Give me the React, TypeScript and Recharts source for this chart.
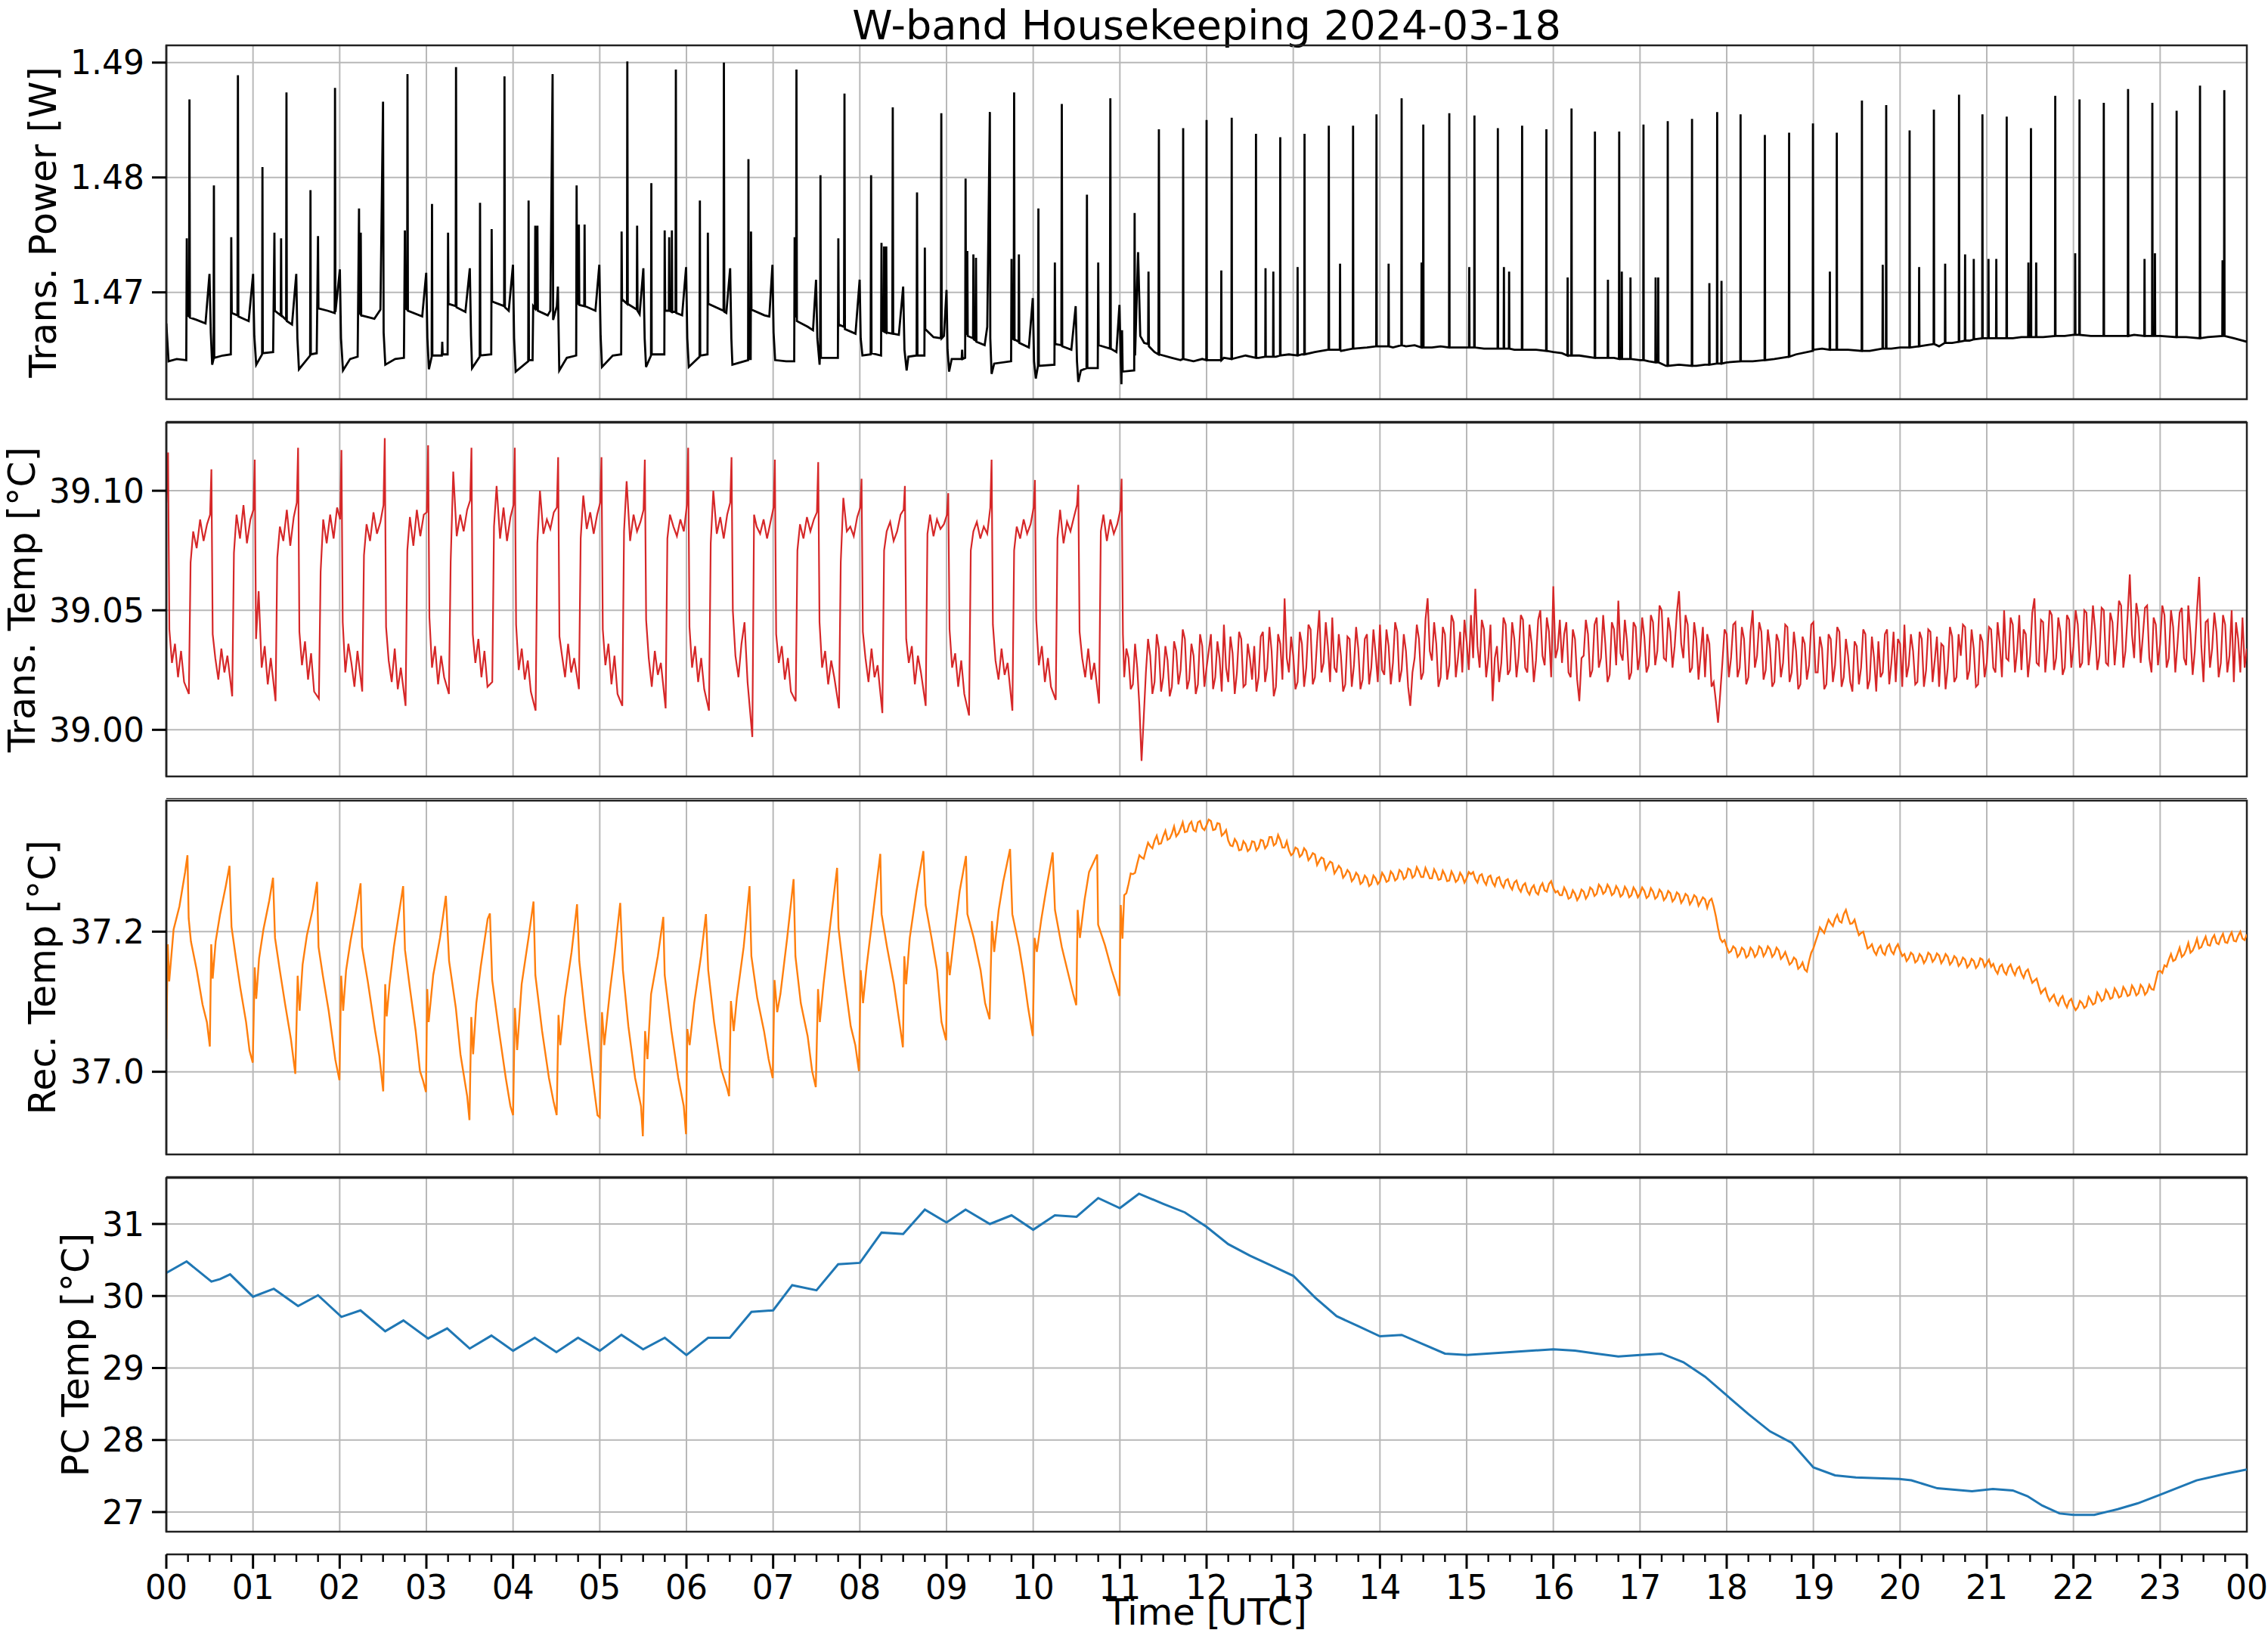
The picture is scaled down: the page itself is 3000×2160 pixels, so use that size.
// W-band housekeeping, four stacked panels sharing a 24 h time axis.
import React from 'react'
import { LineChart, Line, XAxis, YAxis, CartesianGrid, ReferenceArea } from 'recharts'

const FONT = '"DejaVu Sans", sans-serif'

const HOURS = [0, 1, 2, 3, 4, 5, 6, 7, 8, 9, 10, 11, 12, 13, 14, 15, 16, 17, 18, 19, 20, 21, 22, 23, 24]
const HOUR_LABELS = ['00', '01', '02', '03', '04', '05', '06', '07', '08', '09', '10', '11', '12',
  '13', '14', '15', '16', '17', '18', '19', '20', '21', '22', '23', '00']
const QUARTER_TICKS = HOURS.slice(0, -1).flatMap((h) => [h, h + 0.25, h + 0.5, h + 0.75]).concat(24)

// ---- Trans. Power [W]: shape of the trace (hour, W) ----
const powerTrace: [number, number][] = [
  [0, 1.4673], [0.026, 1.464], [0.12, 1.4642], [0.23, 1.4641],
  [0.236, 1.4747], [0.24, 1.468], [0.262, 1.4679], [0.267, 1.4868], [0.272, 1.4678], [0.35, 1.4676], [0.452, 1.4673], [0.498, 1.4716], [0.513, 1.4665], [0.529, 1.4637],
  [0.545, 1.4642], [0.549, 1.4793], [0.553, 1.4643], [0.65, 1.4645], [0.744, 1.4646],
  [0.749, 1.4748], [0.755, 1.4682], [0.821, 1.468], [0.826, 1.4889], [0.831, 1.4679], [0.95, 1.4675], [1.001, 1.4716], [1.015, 1.4662], [1.037, 1.4637],
  [1.105, 1.4646], [1.109, 1.4809], [1.113, 1.4647], [1.232, 1.4648],
  [1.247, 1.4752], [1.252, 1.4684], [1.32, 1.468], [1.324, 1.4747], [1.328, 1.468], [1.382, 1.4676], [1.386, 1.4874], [1.39, 1.4675], [1.45, 1.4672], [1.499, 1.4716], [1.512, 1.466], [1.53, 1.4633],
  [1.659, 1.4645], [1.663, 1.4789], [1.667, 1.4646], [1.735, 1.4647],
  [1.75, 1.4749], [1.755, 1.4686], [1.86, 1.4684], [1.942, 1.4682], [1.946, 1.4878], [1.951, 1.4683], [2.002, 1.472], [2.015, 1.466], [2.038, 1.4632],
  [2.12, 1.4642], [2.207, 1.4644],
  [2.223, 1.4773], [2.228, 1.4682], [2.239, 1.4681], [2.243, 1.4752], [2.248, 1.468], [2.4, 1.4677], [2.47, 1.4685], [2.5, 1.4866], [2.507, 1.4665], [2.526, 1.4637],
  [2.64, 1.4642], [2.741, 1.4643],
  [2.752, 1.4754], [2.757, 1.4686], [2.778, 1.4685], [2.782, 1.489], [2.787, 1.4684], [2.952, 1.4679], [2.998, 1.4717], [3.012, 1.466], [3.029, 1.4633],
  [3.061, 1.4644], [3.065, 1.4777], [3.069, 1.4645], [3.178, 1.4645], [3.183, 1.4657], [3.188, 1.4646], [3.245, 1.4646],
  [3.25, 1.4752], [3.255, 1.469], [3.338, 1.4688], [3.342, 1.4896], [3.347, 1.4687], [3.45, 1.4683], [3.501, 1.4721], [3.515, 1.4662], [3.527, 1.4634],
  [3.615, 1.4644], [3.619, 1.4778], [3.623, 1.4645], [3.748, 1.4646],
  [3.753, 1.4755], [3.758, 1.4692], [3.897, 1.4688], [3.901, 1.4888], [3.906, 1.4687], [3.95, 1.4684], [3.999, 1.4724], [4.012, 1.466], [4.03, 1.4631],
  [4.175, 1.464], [4.179, 1.478], [4.183, 1.4641], [4.225, 1.4641],
  [4.232, 1.4688], [4.252, 1.4686], [4.256, 1.4758], [4.26, 1.4686], [4.277, 1.4685], [4.281, 1.4758], [4.286, 1.4684], [4.4, 1.468], [4.43, 1.4684], [4.456, 1.489], [4.462, 1.4676], [4.505, 1.4688], [4.517, 1.4705], [4.533, 1.4632],
  [4.62, 1.4643], [4.728, 1.4645],
  [4.733, 1.4793], [4.738, 1.469], [4.755, 1.469], [4.759, 1.4759], [4.764, 1.4689], [4.821, 1.4688], [4.825, 1.4759], [4.83, 1.4688], [4.95, 1.4684], [4.995, 1.4724], [5.01, 1.4662], [5.026, 1.4635],
  [5.15, 1.4645], [5.247, 1.4646],
  [5.252, 1.4753], [5.257, 1.4694], [5.314, 1.469], [5.318, 1.4901], [5.323, 1.469], [5.427, 1.4685], [5.431, 1.4758], [5.436, 1.4684], [5.46, 1.4681], [5.503, 1.4721], [5.518, 1.466], [5.534, 1.4635],
  [5.591, 1.4645], [5.595, 1.4795], [5.599, 1.4646], [5.745, 1.4646],
  [5.749, 1.4754], [5.755, 1.4684], [5.797, 1.4684], [5.801, 1.4748], [5.806, 1.4684], [5.828, 1.4683], [5.832, 1.4754], [5.837, 1.4683], [5.874, 1.4683], [5.878, 1.4894], [5.883, 1.4682], [5.95, 1.468], [5.996, 1.4722], [6.01, 1.466], [6.027, 1.4635],
  [6.151, 1.4644], [6.155, 1.478], [6.159, 1.4645], [6.243, 1.4646],
  [6.247, 1.4752], [6.252, 1.469], [6.428, 1.4684], [6.432, 1.49], [6.437, 1.4683], [6.46, 1.4682], [6.504, 1.4721], [6.518, 1.466], [6.53, 1.4637],
  [6.711, 1.4641], [6.715, 1.4816], [6.719, 1.4642], [6.741, 1.4642],
  [6.745, 1.4753], [6.75, 1.4685], [6.9, 1.468], [6.956, 1.4679], [6.992, 1.4724], [7.005, 1.4665], [7.023, 1.4641],
  [7.15, 1.464], [7.243, 1.464],
  [7.248, 1.4748], [7.252, 1.468], [7.265, 1.4679], [7.269, 1.4894], [7.274, 1.4675], [7.4, 1.467], [7.46, 1.4667], [7.495, 1.4711], [7.51, 1.466], [7.536, 1.4637],
  [7.542, 1.465], [7.546, 1.4802], [7.551, 1.4643], [7.747, 1.4643],
  [7.752, 1.4747], [7.757, 1.4672], [7.818, 1.467], [7.823, 1.4873], [7.828, 1.4668], [7.95, 1.4664], [7.998, 1.4711], [8.01, 1.466], [8.03, 1.4645],
  [8.125, 1.4646], [8.13, 1.4802], [8.135, 1.4647], [8.245, 1.4645],
  [8.25, 1.4743], [8.255, 1.4667], [8.276, 1.4666], [8.28, 1.474], [8.285, 1.4666], [8.301, 1.4665], [8.305, 1.474], [8.31, 1.4665], [8.375, 1.4664], [8.38, 1.4861], [8.385, 1.4664], [8.45, 1.4663], [8.5, 1.4705], [8.515, 1.465], [8.54, 1.4632],
  [8.56, 1.4644], [8.655, 1.4645], [8.66, 1.4787], [8.665, 1.4645], [8.745, 1.4645],
  [8.75, 1.4739], [8.755, 1.4668], [8.85, 1.4661], [8.935, 1.466], [8.94, 1.4856], [8.945, 1.466], [8.97, 1.4662], [9.0, 1.4702], [9.012, 1.465], [9.03, 1.4631],
  [9.06, 1.4642], [9.175, 1.4642], [9.18, 1.465], [9.185, 1.4642], [9.215, 1.4643],
  [9.22, 1.4799], [9.225, 1.4665], [9.236, 1.4664], [9.24, 1.4736], [9.245, 1.4662], [9.306, 1.466], [9.31, 1.4733], [9.315, 1.4659], [9.336, 1.4658], [9.34, 1.473], [9.345, 1.4657], [9.44, 1.4654], [9.47, 1.467], [9.5, 1.4857], [9.505, 1.466], [9.52, 1.4629],
  [9.55, 1.4638], [9.745, 1.464],
  [9.75, 1.4729], [9.755, 1.466], [9.775, 1.4659], [9.78, 1.4874], [9.785, 1.4659], [9.831, 1.4657], [9.835, 1.4733], [9.84, 1.4656], [9.95, 1.4652], [9.995, 1.4695], [10.01, 1.464], [10.03, 1.4625],
  [10.055, 1.4636], [10.06, 1.4773], [10.065, 1.4636], [10.245, 1.4637],
  [10.25, 1.4726], [10.255, 1.4655], [10.325, 1.4654], [10.33, 1.4864], [10.335, 1.4653], [10.44, 1.465], [10.49, 1.4688], [10.505, 1.464], [10.52, 1.4622],
  [10.55, 1.4632], [10.615, 1.4634], [10.62, 1.4785], [10.625, 1.4634], [10.745, 1.4634],
  [10.75, 1.4726], [10.755, 1.4654], [10.885, 1.4651], [10.89, 1.4869], [10.895, 1.4651], [10.96, 1.4648], [10.995, 1.4689], [11.01, 1.464], [11.018, 1.462], [11.025, 1.4667], [11.032, 1.4631],
  [11.165, 1.4632], [11.17, 1.4769], [11.175, 1.4645], [11.21, 1.4735], [11.235, 1.4662], [11.28, 1.4656], [11.326, 1.4655], [11.33, 1.4718], [11.335, 1.4653], [11.4, 1.4648], [11.445, 1.4646], [11.45, 1.4842], [11.455, 1.4646],
  [11.6, 1.4643], [11.7, 1.4641], [11.85, 1.464], [11.95, 1.4642], [12.1, 1.4641], [12.2, 1.4643], [12.45, 1.4645], [12.6, 1.4643], [12.8, 1.4644], [12.95, 1.4646],
  [13.1, 1.4646], [13.25, 1.4648], [13.4, 1.465], [13.55, 1.4649], [13.7, 1.4651], [13.85, 1.4652], [14.0, 1.4653], [14.15, 1.4652], [14.3, 1.4653], [14.4, 1.4654],
  [14.6, 1.4652], [14.7, 1.4653], [14.9, 1.4652], [15.0, 1.4652], [15.2, 1.4651], [15.4, 1.4651], [15.55, 1.465], [15.8, 1.465], [16.0, 1.4648], [16.1, 1.4647],
  [16.3, 1.4645], [16.5, 1.4643], [16.7, 1.4643], [17.0, 1.4641], [17.1, 1.464], [17.3, 1.4636], [17.45, 1.4637], [17.65, 1.4636], [17.75, 1.4637], [18.0, 1.4639],
  [18.3, 1.464], [18.55, 1.4642], [18.8, 1.4646], [19.0, 1.465], [19.1, 1.4651], [19.4, 1.465], [19.65, 1.4649], [19.9, 1.4651], [20.0, 1.4652], [20.3, 1.4654],
  [20.45, 1.4653], [20.6, 1.4656], [20.8, 1.4658], [21.0, 1.466], [21.3, 1.466], [21.4, 1.4661], [21.65, 1.4661], [21.9, 1.4662], [22.0, 1.4663], [22.2, 1.4662],
  [22.5, 1.4662], [22.7, 1.4663], [23.0, 1.4662], [23.3, 1.4661], [23.55, 1.4661], [23.85, 1.466], [24.0, 1.4657],
]

// ---- Trans. Power spikes after 11.5 h: [hour, base W, peak W] ----
const powerSpikes: [number, number, number][] = [
  [11.73, 1.4642, 1.4843], [12.0, 1.4641, 1.485], [12.17, 1.4641, 1.4719], [12.29, 1.4642, 1.4852], [12.57, 1.4643, 1.4838],
  [12.68, 1.4644, 1.4721], [12.77, 1.4644, 1.4718], [12.85, 1.4645, 1.4835], [13.05, 1.4645, 1.4722], [13.13, 1.4646, 1.4838],
  [13.41, 1.465, 1.4845], [13.54, 1.465, 1.4725], [13.69, 1.4651, 1.4845], [13.96, 1.4653, 1.4855], [14.1, 1.4653, 1.4725],
  [14.25, 1.4654, 1.4869], [14.48, 1.4652, 1.4726], [14.5, 1.4652, 1.4846], [14.8, 1.4652, 1.4856], [15.03, 1.4652, 1.4722],
  [15.09, 1.4652, 1.4854], [15.36, 1.4651, 1.4843], [15.43, 1.4651, 1.4722], [15.49, 1.4651, 1.4718], [15.64, 1.465, 1.4845],
  [15.92, 1.4649, 1.4842], [16.165, 1.4645, 1.4713], [16.21, 1.4645, 1.486], [16.48, 1.4643, 1.484], [16.63, 1.4643, 1.4711],
  [16.76, 1.4642, 1.484], [16.79, 1.4642, 1.4718], [16.89, 1.4642, 1.4713], [17.04, 1.4641, 1.4846], [17.18, 1.4639, 1.4713],
  [17.21, 1.4639, 1.4713], [17.32, 1.4636, 1.4849], [17.6, 1.4636, 1.4851], [17.8, 1.4637, 1.4708], [17.89, 1.4638, 1.4857],
  [17.94, 1.4638, 1.471], [18.16, 1.464, 1.4855], [18.44, 1.4641, 1.4837], [18.72, 1.4644, 1.4839], [18.995, 1.4649, 1.4847],
  [19.19, 1.465, 1.4718], [19.27, 1.465, 1.4839], [19.56, 1.4649, 1.4867], [19.8, 1.4651, 1.4724], [19.84, 1.4651, 1.4863],
  [20.11, 1.4652, 1.4841], [20.22, 1.4653, 1.4722], [20.39, 1.4655, 1.4859], [20.52, 1.4656, 1.4725], [20.68, 1.4657, 1.4872],
  [20.75, 1.4658, 1.4733], [20.85, 1.4659, 1.4729], [20.95, 1.466, 1.4855], [21.02, 1.466, 1.4729], [21.11, 1.466, 1.4729],
  [21.23, 1.466, 1.4853], [21.48, 1.4661, 1.4726], [21.51, 1.4661, 1.4843], [21.57, 1.4661, 1.4726], [21.79, 1.4662, 1.4871],
  [22.02, 1.4663, 1.4734], [22.07, 1.4663, 1.4868], [22.35, 1.4662, 1.4865], [22.63, 1.4662, 1.4877], [22.82, 1.4662, 1.4729],
  [22.91, 1.4662, 1.4865], [22.94, 1.4662, 1.4734], [23.19, 1.4661, 1.4858], [23.46, 1.466, 1.488], [23.72, 1.4662, 1.4728],
  [23.74, 1.4662, 1.4876],
]

// ---- Trans. Temp [°C] 0–11 h: one row per half hour, sampled at the phases below ----
const transTempPhase = [0.02, 0.035, 0.065, 0.1, 0.135, 0.17, 0.205, 0.26, 0.28, 0.31, 0.35, 0.39, 0.43, 0.47, 0.505]
const transTempCycles: number[][] = [
  [39.116, 39.042, 39.028, 39.036, 39.022, 39.033, 39.02, 39.015, 39.07, 39.083, 39.076, 39.088, 39.079, 39.086, 39.09],
  [39.109, 39.04, 39.03, 39.021, 39.034, 39.024, 39.031, 39.014, 39.074, 39.09, 39.08, 39.094, 39.078, 39.088, 39.092],
  [39.113, 39.038, 39.058, 39.026, 39.035, 39.019, 39.03, 39.012, 39.072, 39.085, 39.079, 39.092, 39.077, 39.089, 39.095],
  [39.118, 39.041, 39.027, 39.037, 39.021, 39.032, 39.016, 39.013, 39.066, 39.088, 39.078, 39.09, 39.08, 39.093, 39.088],
  [39.117, 39.045, 39.024, 39.036, 39.028, 39.018, 39.033, 39.016, 39.073, 39.086, 39.079, 39.091, 39.082, 39.087, 39.094],
  [39.122, 39.043, 39.029, 39.02, 39.034, 39.017, 39.026, 39.01, 39.075, 39.089, 39.077, 39.092, 39.081, 39.09, 39.091],
  [39.119, 39.047, 39.026, 39.035, 39.019, 39.031, 39.022, 39.015, 39.07, 39.108, 39.081, 39.09, 39.083, 39.092, 39.096],
  [39.118, 39.04, 39.028, 39.038, 39.022, 39.033, 39.018, 39.02, 39.085, 39.102, 39.08, 39.093, 39.079, 39.089, 39.094],
  [39.118, 39.044, 39.025, 39.034, 39.021, 39.029, 39.016, 39.008, 39.078, 39.1, 39.082, 39.088, 39.084, 39.091, 39.093],
  [39.114, 39.039, 39.031, 39.022, 39.036, 39.024, 39.03, 39.017, 39.08, 39.098, 39.084, 39.091, 39.082, 39.09, 39.095],
  [39.114, 39.042, 39.027, 39.036, 39.019, 39.031, 39.015, 39.01, 39.083, 39.104, 39.079, 39.09, 39.083, 39.087, 39.092],
  [39.113, 39.046, 39.03, 39.018, 39.033, 39.023, 39.028, 39.009, 39.08, 39.09, 39.085, 39.081, 39.088, 39.083, 39.094],
  [39.118, 39.043, 39.026, 39.035, 39.02, 39.03, 39.017, 39.008, 39.078, 39.1, 39.082, 39.089, 39.08, 39.09, 39.095],
  [39.114, 39.05, 39.031, 39.022, 39.036, 39.045, 39.02, 38.997, 39.09, 39.085, 39.082, 39.088, 39.08, 39.087, 39.093],
  [39.113, 39.04, 39.028, 39.035, 39.021, 39.03, 39.016, 39.012, 39.075, 39.086, 39.08, 39.089, 39.083, 39.088, 39.091],
  [39.112, 39.045, 39.026, 39.033, 39.019, 39.029, 39.022, 39.009, 39.07, 39.097, 39.083, 39.085, 39.081, 39.089, 39.093],
  [39.105, 39.041, 39.03, 39.02, 39.034, 39.022, 39.027, 39.007, 39.075, 39.083, 39.087, 39.079, 39.083, 39.09, 39.092],
  [39.102, 39.038, 39.028, 39.035, 39.019, 39.031, 39.024, 39.01, 39.082, 39.09, 39.081, 39.088, 39.084, 39.086, 39.09],
  [39.099, 39.042, 39.026, 39.032, 39.018, 39.029, 39.015, 39.006, 39.075, 39.083, 39.087, 39.08, 39.085, 39.082, 39.093],
  [39.113, 39.044, 39.029, 39.021, 39.034, 39.023, 39.028, 39.008, 39.075, 39.085, 39.08, 39.088, 39.082, 39.086, 39.093],
  [39.1045, 39.046, 39.027, 39.035, 39.02, 39.03, 39.018, 39.0125, 39.08, 39.092, 39.078, 39.087, 39.083, 39.089, 39.094],
  [39.1025, 39.041, 39.03, 39.022, 39.034, 39.021, 39.028, 39.011, 39.083, 39.09, 39.079, 39.088, 39.082, 39.086, 39.092],
]
const transTempEdges: [number, number][] = [[0, 39.095], [11.02, 39.105], [11.035, 39.04]]

// ---- Trans. Temp [°C] 11.05–24 h, every 3 min ----
const transTempLate = [
  39.022, 39.03, 39.019, 39.026, 38.987, 39.024, 39.031, 39.02, 39.034, 39.022, 39.029, 39.018, 39.033, 39.025, 39.038, 39.021, 39.031, 39.019, 39.035, 39.026,
  39.04, 39.022, 39.03, 39.044, 39.02, 39.032, 39.024, 39.038, 39.019, 39.03, 39.035, 39.022, 39.041, 39.026, 39.033, 39.018, 39.036, 39.055, 39.024, 39.031,
  39.02, 39.036, 39.026, 39.042, 39.022, 39.05, 39.028, 39.035, 39.047, 39.024, 39.031, 39.019, 39.038, 39.027, 39.034, 39.021, 39.04, 39.026, 39.032, 39.044,
  39.023, 39.035, 39.028, 39.041, 39.025, 39.033, 39.01, 39.03, 39.038, 39.024, 39.055, 39.029, 39.036, 39.022, 39.04, 39.027, 39.045, 39.03, 39.024, 39.037,
  39.048, 39.059, 39.026, 39.042, 39.03, 39.012, 39.035, 39.028, 39.044, 39.025, 39.038, 39.031, 39.046, 39.024, 39.036, 39.029, 39.05, 39.027, 39.041, 39.06,
  39.034, 39.028, 39.045, 39.022, 39.038, 39.012, 39.031, 39.04, 39.025, 39.047, 39.03, 39.036, 39.023, 39.042, 39.054, 39.029, 39.037, 39.024, 39.043, 39.031,
  39.039, 39.027, 39.045, 39.033, 39.05, 39.029, 39.041, 39.035, 39.058, 39.03, 39.044, 39.026, 39.038, 39.032, 39.022, 39.036, 39.02, 39.003, 39.028, 39.04,
  39.03, 39.045, 39.026, 39.038, 39.022, 39.05, 39.031, 39.041, 39.025, 39.034, 39.02, 39.037, 39.028, 39.043, 39.024, 39.033, 39.019, 39.036, 39.027, 39.045,
  39.024, 39.034, 39.019, 39.038, 39.027, 39.041, 39.022, 39.031, 39.016, 39.035, 39.026, 39.04, 39.021, 39.03, 39.037, 39.024, 39.042, 39.028, 39.02, 39.036,
  39.044, 39.027, 39.033, 39.02, 39.038, 39.025, 39.041, 39.029, 39.018, 39.035, 39.026, 39.039, 39.022, 39.031, 39.043, 39.025, 39.034, 39.019, 39.037, 39.028,
  39.042, 39.024, 39.036, 39.05, 39.029, 39.044, 39.033, 39.025, 39.04, 39.031, 39.055, 39.027, 39.045, 39.034, 39.048, 39.03, 39.041, 39.026, 39.046, 39.035,
  39.044, 39.028, 39.049, 39.036, 39.042, 39.031, 39.05, 39.027, 39.045, 39.038, 39.052, 39.033, 39.065, 39.03, 39.047, 39.039, 39.052, 39.024, 39.044, 39.036,
  39.048, 39.03, 39.043, 39.036, 39.051, 39.027, 39.04, 39.033, 39.064, 39.02, 39.046, 39.034, 39.041, 39.028, 39.044, 39.031, 39.02, 39.038, 39.047, 39.034,
]
// the samples half-way between those above (11.075–23.975 h)
const transTempLateMid = [
  39.034, 39.017, 39.036, 39.01, 39.005, 39.038, 39.015, 39.04, 39.016, 39.035, 39.014, 39.037, 39.019, 39.042, 39.017, 39.036, 39.015, 39.04, 39.018, 39.033,
  39.017, 39.037, 39.016, 39.026, 39.039, 39.015, 39.041, 39.018, 39.036, 39.021, 39.016, 39.039, 39.02, 39.043, 39.014, 39.04, 39.021, 39.03, 39.039, 39.017,
  39.041, 39.018, 39.044, 39.019, 39.037, 39.024, 39.045, 39.02, 39.026, 39.04, 39.016, 39.039, 39.018, 39.043, 39.017, 39.038, 39.019, 39.042, 39.02, 39.025,
  39.042, 39.019, 39.045, 39.02, 39.04, 39.018, 39.024, 39.044, 39.021, 39.046, 39.033, 39.045, 39.018, 39.043, 39.021, 39.048, 39.022, 39.041, 39.046, 39.025,
  39.03, 39.035, 39.046, 39.022, 39.044, 39.03, 39.02, 39.047, 39.023, 39.045, 39.022, 39.048, 39.026, 39.044, 39.02, 39.046, 39.031, 39.047, 39.022, 39.03,
  39.046, 39.04, 39.024, 39.042, 39.021, 39.03, 39.046, 39.022, 39.044, 39.026, 39.048, 39.02, 39.045, 39.027, 39.032, 39.046, 39.021, 39.045, 39.025, 39.047,
  39.024, 39.048, 39.027, 39.052, 39.03, 39.047, 39.026, 39.049, 39.036, 39.048, 39.024, 39.045, 39.021, 39.043, 39.04, 39.018, 39.012, 39.015, 39.042, 39.022,
  39.044, 39.022, 39.043, 39.019, 39.041, 39.026, 39.045, 39.021, 39.042, 39.018, 39.04, 39.022, 39.044, 39.02, 39.041, 39.017, 39.039, 39.021, 39.044, 39.024,
  39.039, 39.017, 39.04, 39.02, 39.043, 39.018, 39.038, 39.02, 39.037, 39.019, 39.042, 39.017, 39.039, 39.016, 39.022, 39.04, 39.019, 39.041, 39.038, 39.018,
  39.022, 39.04, 39.019, 39.041, 39.018, 39.042, 39.02, 39.039, 39.036, 39.017, 39.043, 39.02, 39.04, 39.044, 39.021, 39.042, 39.018, 39.04, 39.022, 39.043,
  39.026, 39.045, 39.022, 39.03, 39.047, 39.024, 39.048, 39.042, 39.022, 39.049, 39.028, 39.046, 39.024, 39.05, 39.025, 39.047, 39.023, 39.048, 39.026, 39.05,
  39.026, 39.05, 39.027, 39.052, 39.025, 39.051, 39.028, 39.049, 39.027, 39.054, 39.026, 39.048, 39.04, 39.053, 39.028, 39.051, 39.03, 39.047, 39.027, 39.052,
  39.026, 39.05, 39.024, 39.049, 39.03, 39.052, 39.023, 39.05, 39.035, 39.045, 39.026, 39.049, 39.022, 39.048, 39.024, 39.05, 39.045, 39.024, 39.026,
]

// ---- Rec. Temp [°C] 0–11.03 h sawtooth (hour, °C) ----
const recTempEarly: [number, number][] = [
  [0, 37.046], [0.017, 37.182], [0.033, 37.129], [0.084, 37.203], [0.151, 37.236], [0.217, 37.285], [0.244, 37.309],
  [0.258, 37.219], [0.284, 37.186], [0.351, 37.145], [0.418, 37.096], [0.468, 37.071], [0.502, 37.036],
  [0.518, 37.182], [0.535, 37.133], [0.569, 37.186], [0.619, 37.224], [0.686, 37.265], [0.729, 37.294],
  [0.752, 37.207], [0.803, 37.162], [0.853, 37.12], [0.92, 37.071], [0.96, 37.03], [0.997, 37.013],
  [1.02, 37.149], [1.037, 37.104], [1.07, 37.162], [1.12, 37.203], [1.187, 37.244], [1.231, 37.277],
  [1.254, 37.191], [1.304, 37.149], [1.371, 37.096], [1.438, 37.046], [1.488, 36.997],
  [1.515, 37.137], [1.538, 37.087], [1.572, 37.153], [1.622, 37.195], [1.689, 37.232], [1.739, 37.271],
  [1.756, 37.178], [1.806, 37.137], [1.873, 37.087], [1.95, 37.017], [1.997, 36.988],
  [2.017, 37.137], [2.04, 37.087], [2.074, 37.145], [2.124, 37.186], [2.191, 37.232], [2.241, 37.269],
  [2.258, 37.178], [2.324, 37.129], [2.408, 37.059], [2.458, 37.022], [2.502, 36.972],
  [2.525, 37.125], [2.542, 37.079], [2.575, 37.125], [2.625, 37.178], [2.676, 37.22], [2.732, 37.265],
  [2.753, 37.174], [2.809, 37.12], [2.876, 37.059], [2.926, 37.001], [2.96, 36.988], [2.995, 36.971],
  [3.01, 37.118], [3.026, 37.071], [3.079, 37.138], [3.157, 37.191], [3.225, 37.251],
  [3.262, 37.158], [3.34, 37.091], [3.393, 37.025], [3.471, 36.965], [3.497, 36.931],
  [3.518, 37.078], [3.539, 37.025], [3.576, 37.098], [3.628, 37.151], [3.707, 37.218], [3.733, 37.226],
  [3.759, 37.131], [3.838, 37.058], [3.916, 36.991], [3.969, 36.951], [4.0, 36.938],
  [4.021, 37.091], [4.047, 37.031], [4.099, 37.125], [4.178, 37.191], [4.236, 37.243],
  [4.257, 37.138], [4.335, 37.058], [4.414, 36.991], [4.466, 36.958], [4.503, 36.938],
  [4.524, 37.081], [4.545, 37.038], [4.597, 37.105], [4.675, 37.171], [4.738, 37.239],
  [4.764, 37.158], [4.832, 37.078], [4.911, 36.998], [4.974, 36.938], [5.0, 36.935],
  [5.026, 37.085], [5.052, 37.038], [5.12, 37.118], [5.173, 37.171], [5.236, 37.241],
  [5.267, 37.145], [5.33, 37.065], [5.408, 36.991], [5.476, 36.951], [5.497, 36.908],
  [5.523, 37.058], [5.55, 37.018], [5.592, 37.111], [5.67, 37.165], [5.733, 37.221],
  [5.749, 37.138], [5.827, 37.058], [5.906, 36.991], [5.969, 36.951], [5.995, 36.911],
  [6.01, 37.061], [6.037, 37.038], [6.089, 37.098], [6.168, 37.165], [6.225, 37.225],
  [6.251, 37.145], [6.319, 37.071], [6.398, 37.005], [6.466, 36.978], [6.492, 36.965],
  [6.513, 37.101], [6.545, 37.058], [6.581, 37.105], [6.66, 37.178], [6.728, 37.265],
  [6.749, 37.165], [6.817, 37.105], [6.895, 37.058], [6.948, 37.018], [6.995, 36.991],
  [7.016, 37.131], [7.047, 37.085], [7.084, 37.111], [7.162, 37.191], [7.236, 37.275],
  [7.257, 37.165], [7.319, 37.098], [7.398, 37.051], [7.45, 37.001], [7.492, 36.978],
  [7.518, 37.118], [7.539, 37.071], [7.581, 37.125], [7.66, 37.211], [7.738, 37.291],
  [7.754, 37.205], [7.817, 37.138], [7.895, 37.065], [7.948, 37.038], [7.99, 37.001],
  [8.01, 37.145], [8.037, 37.098], [8.079, 37.151], [8.157, 37.231], [8.236, 37.311],
  [8.251, 37.225], [8.314, 37.178], [8.393, 37.125], [8.471, 37.058], [8.497, 37.035],
  [8.513, 37.165], [8.534, 37.125], [8.576, 37.191], [8.654, 37.258], [8.733, 37.315],
  [8.759, 37.238], [8.827, 37.191], [8.89, 37.145], [8.942, 37.071], [8.995, 37.045],
  [9.01, 37.171], [9.037, 37.138], [9.099, 37.205], [9.152, 37.258], [9.225, 37.308],
  [9.241, 37.225], [9.314, 37.191], [9.393, 37.145], [9.445, 37.098], [9.497, 37.075],
  [9.524, 37.215], [9.55, 37.171], [9.602, 37.231], [9.654, 37.271], [9.733, 37.318],
  [9.759, 37.225], [9.838, 37.178], [9.89, 37.138], [9.942, 37.091], [9.995, 37.051],
  [10.016, 37.191], [10.042, 37.171], [10.094, 37.218], [10.147, 37.258], [10.225, 37.313],
  [10.251, 37.231], [10.33, 37.178], [10.408, 37.138], [10.461, 37.111], [10.497, 37.095],
  [10.513, 37.231], [10.539, 37.191], [10.592, 37.245], [10.644, 37.285], [10.738, 37.31],
  [10.749, 37.21], [10.827, 37.181], [10.906, 37.145], [10.958, 37.125], [10.995, 37.108],
  [11.01, 37.238], [11.03, 37.19],
]

// ---- Rec. Temp [°C] 11.05–24 h, every 3 min ----
const recTempLate = [
  37.252, 37.268, 37.282, 37.297, 37.306, 37.316, 37.322, 37.33, 37.325, 37.336, 37.331, 37.34, 37.336, 37.347, 37.342, 37.353, 37.345, 37.356, 37.348, 37.352,
  37.358, 37.346, 37.354, 37.34, 37.33, 37.322, 37.327, 37.317, 37.325, 37.318, 37.328, 37.32, 37.33, 37.323, 37.335, 37.326, 37.331, 37.32, 37.316, 37.312,
  37.318, 37.31, 37.315, 37.306, 37.31, 37.301, 37.304, 37.295, 37.298, 37.288, 37.29, 37.281, 37.284, 37.276, 37.28, 37.271, 37.276, 37.268, 37.276, 37.272,
  37.279, 37.273, 37.282, 37.276, 37.285, 37.278, 37.288, 37.28, 37.286, 37.278, 37.284, 37.276, 37.283, 37.275, 37.281, 37.273, 37.28, 37.274, 37.279, 37.276,
  37.282, 37.275, 37.28, 37.272, 37.278, 37.27, 37.276, 37.268, 37.273, 37.265, 37.27, 37.262, 37.266, 37.258, 37.262, 37.256, 37.264, 37.259, 37.268, 37.262,
  37.258, 37.252, 37.257, 37.249, 37.254, 37.25, 37.257, 37.252, 37.26, 37.254, 37.263, 37.257, 37.262, 37.255, 37.26, 37.253, 37.259, 37.252, 37.258, 37.254,
  37.258, 37.251, 37.257, 37.25, 37.256, 37.249, 37.255, 37.247, 37.253, 37.246, 37.251, 37.244, 37.249, 37.243, 37.246, 37.244, 37.236, 37.205, 37.185, 37.178,
  37.172, 37.176, 37.168, 37.174, 37.166, 37.173, 37.168, 37.176, 37.17, 37.175, 37.168, 37.173, 37.165, 37.162, 37.156, 37.16, 37.15, 37.146, 37.158, 37.176,
  37.195, 37.202, 37.208, 37.212, 37.218, 37.215, 37.225, 37.22, 37.212, 37.205, 37.198, 37.188, 37.178, 37.172, 37.176, 37.17, 37.178, 37.172, 37.177, 37.173,
  37.168, 37.162, 37.167, 37.159, 37.164, 37.16, 37.167, 37.161, 37.166, 37.16, 37.164, 37.157, 37.162, 37.155, 37.16, 37.153, 37.158, 37.152, 37.16, 37.155,
  37.15, 37.145, 37.15, 37.143, 37.149, 37.144, 37.147, 37.14, 37.143, 37.136, 37.13, 37.122, 37.116, 37.108, 37.106, 37.1, 37.104, 37.098, 37.101, 37.094,
  37.092, 37.098, 37.094, 37.102, 37.098, 37.108, 37.104, 37.112, 37.106, 37.114, 37.108, 37.116, 37.11, 37.118, 37.112, 37.12, 37.114, 37.118, 37.13, 37.144,
  37.152, 37.16, 37.158, 37.168, 37.164, 37.174, 37.17, 37.18, 37.176, 37.186, 37.181, 37.19, 37.184, 37.191, 37.185, 37.193, 37.187, 37.194, 37.19, 37.196,
]
// the samples half-way between those above (11.075–23.975 h)
const recTempLateMid = [
  37.255, 37.283, 37.284, 37.309, 37.304, 37.327, 37.319, 37.337, 37.326, 37.344, 37.333, 37.35, 37.34, 37.356, 37.343, 37.357, 37.343, 37.358, 37.345, 37.36,
  37.345, 37.355, 37.337, 37.345, 37.323, 37.332, 37.316, 37.329, 37.315, 37.329, 37.316, 37.331, 37.319, 37.335, 37.323, 37.338, 37.32, 37.329, 37.309, 37.32,
  37.307, 37.319, 37.302, 37.312, 37.295, 37.306, 37.289, 37.3, 37.283, 37.294, 37.277, 37.288, 37.272, 37.284, 37.268, 37.28, 37.265, 37.28, 37.268, 37.284,
  37.271, 37.286, 37.273, 37.288, 37.275, 37.29, 37.277, 37.292, 37.278, 37.291, 37.276, 37.289, 37.274, 37.287, 37.272, 37.286, 37.271, 37.284, 37.27, 37.285,
  37.285, 37.27, 37.282, 37.267, 37.28, 37.265, 37.278, 37.263, 37.275, 37.26, 37.273, 37.257, 37.269, 37.253, 37.266, 37.253, 37.269, 37.257, 37.272, 37.256,
  37.252, 37.263, 37.247, 37.259, 37.245, 37.26, 37.247, 37.263, 37.251, 37.267, 37.254, 37.267, 37.252, 37.265, 37.25, 37.264, 37.249, 37.263, 37.249, 37.263,
  37.248, 37.262, 37.247, 37.26, 37.245, 37.258, 37.243, 37.256, 37.241, 37.254, 37.239, 37.252, 37.237, 37.249, 37.234, 37.247, 37.222, 37.19, 37.188, 37.17,
  37.179, 37.164, 37.177, 37.163, 37.177, 37.164, 37.179, 37.165, 37.179, 37.164, 37.177, 37.161, 37.171, 37.153, 37.163, 37.147, 37.156, 37.143, 37.17, 37.186,
  37.206, 37.198, 37.217, 37.208, 37.224, 37.213, 37.231, 37.211, 37.217, 37.195, 37.2, 37.176, 37.182, 37.167, 37.18, 37.167, 37.182, 37.168, 37.182, 37.165,
  37.158, 37.17, 37.156, 37.168, 37.155, 37.17, 37.157, 37.169, 37.155, 37.168, 37.153, 37.165, 37.151, 37.163, 37.149, 37.161, 37.148, 37.162, 37.15, 37.16,
  37.154, 37.14, 37.153, 37.139, 37.153, 37.138, 37.15, 37.134, 37.146, 37.127, 37.133, 37.112, 37.119, 37.101, 37.11, 37.095, 37.108, 37.092, 37.104, 37.088,
  37.101, 37.091, 37.107, 37.096, 37.113, 37.101, 37.117, 37.104, 37.119, 37.106, 37.121, 37.108, 37.123, 37.109, 37.124, 37.11, 37.124, 37.117, 37.143, 37.141,
  37.15, 37.168, 37.16, 37.177, 37.167, 37.184, 37.173, 37.19, 37.178, 37.193, 37.18, 37.195, 37.182, 37.197, 37.184, 37.199, 37.186, 37.2, 37.188,
]

// ---- PC Temp [°C] (hour, °C) ----
const pcTemp: [number, number][] = [
  [0, 30.32], [0.234, 30.48], [0.52, 30.2], [0.62, 30.235], [0.736, 30.3], [1.0, 29.99], [1.24, 30.1], [1.52, 29.86], [1.75, 30.01],
  [2.02, 29.71], [2.24, 29.8], [2.525, 29.51], [2.735, 29.66], [3.02, 29.41], [3.24, 29.55], [3.5, 29.27], [3.75, 29.45], [4.0, 29.24],
  [4.25, 29.42], [4.5, 29.22], [4.75, 29.42], [5.0, 29.24], [5.25, 29.46], [5.5, 29.26], [5.75, 29.42], [6.0, 29.18], [6.25, 29.42],
  [6.5, 29.42], [6.75, 29.78], [7.0, 29.8], [7.22, 30.15], [7.5, 30.08], [7.75, 30.44], [8.0, 30.46], [8.25, 30.88], [8.5, 30.86],
  [8.75, 31.2], [9.0, 31.02], [9.22, 31.2], [9.5, 31.0], [9.75, 31.12], [10.0, 30.92], [10.25, 31.12], [10.5, 31.1], [10.75, 31.36],
  [11.0, 31.22], [11.22, 31.42], [11.5, 31.28], [11.75, 31.16], [12.0, 30.96], [12.25, 30.72], [12.5, 30.56], [12.75, 30.42], [13.0, 30.28],
  [13.25, 29.98], [13.5, 29.72], [13.75, 29.58], [14.0, 29.44], [14.25, 29.46], [14.5, 29.33], [14.75, 29.2], [15.0, 29.18], [15.5, 29.22],
  [16.0, 29.26], [16.25, 29.24], [16.5, 29.2], [16.75, 29.16], [17.0, 29.18], [17.25, 29.2], [17.5, 29.08], [17.75, 28.88], [18.0, 28.62],
  [18.25, 28.36], [18.5, 28.12], [18.75, 27.96], [19.0, 27.62], [19.25, 27.51], [19.49, 27.48], [19.99, 27.46], [20.13, 27.44], [20.43, 27.33],
  [20.83, 27.29], [21.07, 27.32], [21.3, 27.3], [21.47, 27.22], [21.64, 27.09], [21.84, 26.98], [22.0, 26.96], [22.24, 26.96], [22.51, 27.04],
  [22.74, 27.12], [23.0, 27.24], [23.42, 27.44], [23.75, 27.53], [24.0, 27.59],
]

type Pt = { t: number; v: number }
const toPts = (rows: [number, number][]): Pt[] => rows.map(([t, v]) => ({ t, v }))
const byTime = (a: Pt, b: Pt) => a.t - b.t
const sampled = (start: number, step: number, values: number[]): Pt[] =>
  values.map((v, i) => ({ t: +(start + i * step).toFixed(3), v }))

const powerData: Pt[] = toPts(powerTrace)
  .concat(powerSpikes.flatMap(([t, base, peak]) => [
    { t: t - 0.003, v: base }, { t, v: peak }, { t: t + 0.003, v: base },
  ]))
  .sort(byTime)

const transTempData: Pt[] = transTempCycles
  .flatMap((row, k) => row.map((v, i) => ({ t: +(k * 0.5 + transTempPhase[i]).toFixed(3), v })))
  .concat(toPts(transTempEdges), sampled(11.05, 0.05, transTempLate), sampled(11.075, 0.05, transTempLateMid))
  .sort(byTime)

const recTempData: Pt[] = toPts(recTempEarly)
  .concat(sampled(11.05, 0.05, recTempLate), sampled(11.075, 0.05, recTempLateMid))
  .sort(byTime)
const pcTempData: Pt[] = toPts(pcTemp)

const PLOT_H = 468
const PAD = 30 // room above each plot so tick labels near the top are not clipped
const PANELS = [
  { top: 60, label: 'Trans. Power [W]', labelX: 57, data: powerData, color: '#000000', width: 2.8, domain: [1.4607, 1.4915], ticks: [1.47, 1.48, 1.49], digits: 2 },
  { top: 559, label: 'Trans. Temp [°C]', labelX: 29, data: transTempData, color: '#d62728', width: 2.2, domain: [38.9805, 39.1285], ticks: [39.0, 39.05, 39.1], digits: 2 },
  { top: 1059, label: 'Rec. Temp [°C]', labelX: 56, data: recTempData, color: '#ff7f0e', width: 2.4, domain: [36.882, 37.387], ticks: [37.0, 37.2], digits: 1 },
  { top: 1558, label: 'PC Temp [°C]', labelX: 100, data: pcTempData, color: '#1f77b4', width: 3, domain: [26.727, 31.64], ticks: [27, 28, 29, 30, 31], digits: 0 },
]

const timeTick = (withLabels: boolean) => (props: any) => {
  const { x, y, payload } = props
  const major = Number.isInteger(payload.value)
  return (
    <g>
      <line x1={x} x2={x} y1={y} y2={y + (major ? 19 : 10)} stroke="#000" strokeWidth={major ? 3 : 2.4} />
      {withLabels && major && (
        <text x={x} y={y + 59} textAnchor="middle" fontSize={44} fontFamily={FONT} fill="#000">
          {HOUR_LABELS[HOURS.indexOf(payload.value)]}
        </text>
      )}
    </g>
  )
}

function Panel({ panel, last }: { panel: (typeof PANELS)[number]; last: boolean }) {
  const axisH = last ? 110 : 30
  return (
    <div style={{ position: 'absolute', left: 0, top: panel.top - PAD }}>
      <LineChart width={3000} height={PAD + PLOT_H + axisH} data={panel.data} margin={{ top: PAD, right: 28, bottom: 0, left: 0 }}>
        <XAxis xAxisId="grid" dataKey="t" type="number" domain={[0, 24]} ticks={HOURS} interval={0} hide />
        <CartesianGrid xAxisId="grid" stroke="#b8b8b8" strokeWidth={2} />
        <XAxis
          xAxisId="main"
          dataKey="t"
          type="number"
          domain={[0, 24]}
          allowDataOverflow
          ticks={QUARTER_TICKS}
          interval={0}
          height={axisH}
          tickLine={false}
          tickSize={0}
          tickMargin={0}
          axisLine={{ stroke: '#222', strokeWidth: 2.5 }}
          tick={timeTick(last)}
        />
        <YAxis
          type="number"
          domain={panel.domain}
          allowDataOverflow
          ticks={panel.ticks}
          interval={0}
          width={220}
          tickSize={19}
          tickMargin={10}
          tickLine={{ stroke: '#000', strokeWidth: 3 }}
          axisLine={{ stroke: '#222', strokeWidth: 2.5 }}
          tick={{ fontSize: 44, fill: '#000', fontFamily: FONT }}
          tickFormatter={(v: number) => v.toFixed(panel.digits)}
        />
        <ReferenceArea xAxisId="main" x1={0} x2={24} y1={panel.domain[0]} y2={panel.domain[1]} fill="none" stroke="#222" strokeWidth={2.5} />
        <Line xAxisId="main" type="linear" dataKey="v" stroke={panel.color} strokeWidth={panel.width} dot={false} isAnimationActive={false} />
      </LineChart>
    </div>
  )
}

export default function App() {
  return (
    <div style={{ position: 'absolute', left: 0, top: 0, width: 3000, height: 2160, background: '#fff', overflow: 'hidden' }}>
      <svg width={3000} height={2160} style={{ position: 'absolute', left: 0, top: 0 }}>
        <text x={1596} y={52} textAnchor="middle" fontSize={54} fontFamily={FONT} fill="#000">W-band Housekeeping 2024-03-18</text>
        <text x={1596} y={2149} textAnchor="middle" fontSize={48} fontFamily={FONT} fill="#000">Time [UTC]</text>
        {PANELS.map((p) => {
          const cy = p.top + PLOT_H / 2
          return (
            <text key={p.label} x={p.labelX} y={cy} transform={`rotate(-90 ${p.labelX} ${cy})`} textAnchor="middle"
              dominantBaseline="central" fontSize={49} fontFamily={FONT} fill="#000">
              {p.label}
            </text>
          )
        })}
      </svg>
      {PANELS.map((p, i) => (
        <Panel key={p.label} panel={p} last={i === PANELS.length - 1} />
      ))}
    </div>
  )
}
